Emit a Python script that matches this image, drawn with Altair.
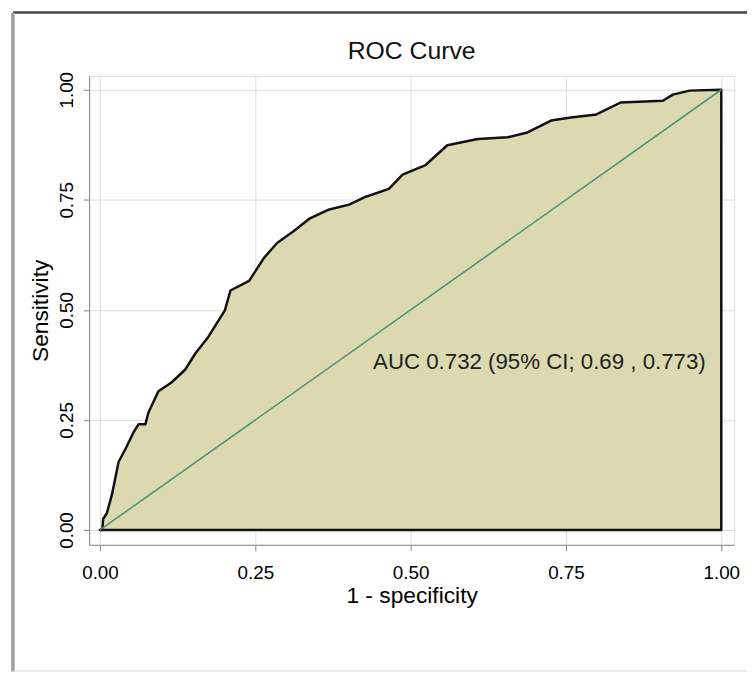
import altair as alt
import pandas as pd

# ROC curve points (1 - specificity, sensitivity)
fpr = [0.0, 0.004, 0.005, 0.011, 0.019, 0.030, 0.041, 0.054, 0.062, 0.073, 0.078,
       0.094, 0.115, 0.137, 0.154, 0.174, 0.201, 0.210, 0.240, 0.264, 0.285,
       0.312, 0.338, 0.369, 0.401, 0.428, 0.465, 0.487, 0.524, 0.559, 0.608,
       0.656, 0.688, 0.726, 0.758, 0.799, 0.838, 0.906, 0.922, 0.949, 0.998, 1.0]
tpr = [0.0, 0.004, 0.025, 0.038, 0.079, 0.155, 0.184, 0.222, 0.240, 0.240, 0.267,
       0.315, 0.335, 0.364, 0.402, 0.438, 0.499, 0.544, 0.566, 0.618, 0.652,
       0.679, 0.708, 0.728, 0.739, 0.757, 0.775, 0.807, 0.829, 0.874, 0.888,
       0.892, 0.903, 0.930, 0.937, 0.944, 0.971, 0.975, 0.989, 0.998, 1.0, 1.0]

tick_values = [0, 0.25, 0.5, 0.75, 1.0]
annotation = ["AUC 0.732 (95% CI; 0.69 , 0.773)"]
chart_title = "ROC Curve"
x_title = "1 - specificity"
y_title = "Sensitivity"

df = pd.DataFrame({"fpr": fpr, "tpr": tpr})
one = pd.DataFrame({"label": annotation})

FONT = "Liberation Sans, Arial, sans-serif"
xs = alt.Scale(domain=[-0.0175, 1.0207], nice=False, zero=False)
ys = alt.Scale(domain=[-0.0337, 1.0315], nice=False, zero=False)

label_expr = "format(datum.value, '.2f')"

x_axis = alt.Axis(values=tick_values, title=x_title, labelExpr=label_expr,
                  labelFontSize=19, titleFontSize=23, labelPadding=13,
                  titlePadding=2, tickSize=6, titleFontWeight="normal")
y_axis = alt.Axis(values=tick_values, title=y_title, labelExpr=label_expr,
                  labelFontSize=19, titleFontSize=23, labelAngle=270,
                  labelAlign="center", labelBaseline="bottom",
                  labelPadding=7, titlePadding=5, tickSize=6,
                  titleFontWeight="normal")

area = alt.Chart(df).mark_area(
    color="#dcd9b0", stroke="#111111", strokeWidth=2.5, strokeJoin="round",
    opacity=1, fillOpacity=1, interpolate="linear"
).encode(
    x=alt.X("fpr:Q", scale=xs, axis=x_axis),
    y=alt.Y("tpr:Q", scale=ys, axis=y_axis),
)

diag = alt.Chart(one).mark_rule(color="#4f9478", strokeWidth=1.6).encode(
    x=alt.datum(0, scale=xs), y=alt.datum(0, scale=ys),
    x2=alt.datum(1), y2=alt.datum(1),
)

label = alt.Chart(one).mark_text(
    align="left", baseline="alphabetic", font=FONT,
    fontSize=22.5, color="#222222"
).encode(text="label:N", x=alt.datum(0.4395, scale=xs), y=alt.datum(0.366, scale=ys))

# outer graph-region border (decoration)
top_line = alt.Chart(one).mark_rule(color="#444444", strokeWidth=2.5).encode(
    x=alt.value(-77), x2=alt.value(700), y=alt.value(-64))
left_line = alt.Chart(one).mark_rule(color="#a0a0a0", strokeWidth=3.5).encode(
    x=alt.value(-77), y=alt.value(-64), y2=alt.value(602))
bottom_line = alt.Chart(one).mark_rule(color="#d6d6d6", strokeWidth=1).encode(
    x=alt.value(-77), x2=alt.value(700), y=alt.value(601.5))

chart = alt.layer(area, diag, label, top_line, left_line, bottom_line).properties(
    width=652, height=474,
    title=alt.TitleParams(chart_title, fontSize=25, font=FONT, fontWeight="normal",
                          color="#111111", anchor="middle", frame="group",
                          baseline="alphabetic", offset=-74),
    padding={"left": 82, "top": 65, "right": 13, "bottom": 129},
    autosize=alt.AutoSizeParams(type="none"),
).configure_view(
    stroke="#222222", strokeWidth=2
).configure_axis(
    labelFont=FONT, titleFont=FONT, labelColor="#222222", titleColor="#111111",
    titleFontWeight="normal", domainColor="#111111", domainWidth=2.5,
    tickColor="#111111", tickWidth=1.5, grid=True, gridColor="#e3eaf0",
    gridWidth=1,
).configure(background="white")

chart.save("out.html", embed_options={"renderer": "svg", "actions": False})
